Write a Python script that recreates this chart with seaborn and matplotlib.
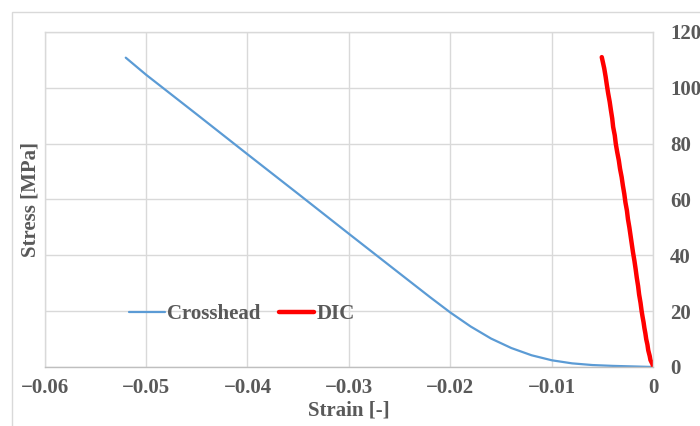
import numpy as np
import pandas as pd
import matplotlib
matplotlib.use("Agg")
import matplotlib.pyplot as plt
from matplotlib.patches import Rectangle
import seaborn as sns


# Crosshead series (strain [-], stress [MPa])
crosshead_strain = [0.0, -0.002, -0.004, -0.006, -0.008, -0.010, -0.012, -0.014,
                    -0.016, -0.018, -0.020, -0.022, -0.025, -0.030, -0.035,
                    -0.040, -0.045, -0.050, -0.052]
crosshead_stress = [0.0, 0.2, 0.4, 0.7, 1.3, 2.4, 4.2, 6.8,
                    10.2, 14.5, 19.5, 25.0, 33.5, 47.7, 62.0,
                    76.2, 90.5, 104.7, 110.8]

# DIC series
dic_stress = [0, 1, 2.5, 4, 6, 8, 10, 12, 14, 16, 18, 20, 23, 26, 29, 32, 35, 38,
              41, 44, 47, 50, 53, 56, 59, 62, 65, 68, 71, 74, 77, 80, 83, 86, 89,
              92, 95, 98, 101, 104, 107, 109, 111]
dic_strain = [0.0, -0.00008, -0.00028, -0.00036, -0.00050, -0.00058, -0.00070,
              -0.00078, -0.00088, -0.00096, -0.00106, -0.00115, -0.00126,
              -0.00140, -0.00150, -0.00163, -0.00174, -0.00186, -0.00200,
              -0.00212, -0.00224, -0.00236, -0.00250, -0.00260, -0.00275,
              -0.00286, -0.00300, -0.00312, -0.00328, -0.00340, -0.00356,
              -0.00370, -0.00380, -0.00396, -0.00405, -0.00418, -0.00430,
              -0.00445, -0.00458, -0.00470, -0.00484, -0.00496, -0.00508]

x_ticks = [-0.06, -0.05, -0.04, -0.03, -0.02, -0.01, 0]
y_ticks = [0, 20, 40, 60, 80, 100, 120]

df = pd.concat([
    pd.DataFrame({"strain": crosshead_strain, "stress": crosshead_stress, "series": "Crosshead"}),
    pd.DataFrame({"strain": dic_strain, "stress": dic_stress, "series": "DIC"}),
])

sns.set_theme(style="white")
plt.rcParams["font.family"] = ["Liberation Serif", "DejaVu Serif"]
plt.rcParams["font.weight"] = "bold"

TEXT = "#595959"
GRID = "#d9d9d9"

fig = plt.figure(figsize=(7, 4.26), dpi=100)
ax = fig.add_axes([0.0637, 0.1385, 0.8696, 0.7864])

# outer chart frame
fig.patches.append(Rectangle((12 / 700, -0.2), 1.2, 1.2 - 12 / 426,
                             transform=fig.transFigure, fill=False,
                             edgecolor=GRID, linewidth=1.0))

sns.lineplot(data=df, x="strain", y="stress", hue="series",
             palette={"Crosshead": "#5B9BD5", "DIC": "#FF0000"},
             sort=False, estimator=None, ax=ax, legend=False)
lines = ax.get_lines()
lines[0].set_linewidth(1.6)
lines[1].set_linewidth(3.2)

ax.set_xlim(-0.06, 0)
ax.set_ylim(0, 120)
ax.set_xticks(x_ticks)
ax.set_yticks(y_ticks)
ax.set_xticklabels(["\u22120.06", "\u22120.05", "\u22120.04", "\u22120.03",
                    "\u22120.02", "\u22120.01", "0"])
ax.yaxis.tick_right()
ax.yaxis.set_label_position("left")
ax.tick_params(axis="y", length=0, pad=12, labelsize=15, labelcolor=TEXT)
ax.tick_params(axis="x", length=0, pad=8, labelsize=15, labelcolor=TEXT)
for lab in ax.get_xticklabels():
    lab.set_fontweight("bold")
for lab in ax.get_yticklabels():
    lab.set_fontweight("bold")
    lab.set_horizontalalignment("left")

ax.grid(True, color=GRID, linewidth=1.0)
ax.set_axisbelow(True)
for side in ["top", "left", "right"]:
    ax.spines[side].set_color(GRID)
    ax.spines[side].set_linewidth(1.0)
ax.spines["bottom"].set_color("#bfbfbf")
ax.spines["bottom"].set_linewidth(1.0)

ax.set_xlabel("Strain [-]", fontsize=15, fontweight="bold", color=TEXT, labelpad=2)
ax.set_ylabel("Stress [MPa]", fontsize=15, fontweight="bold", color=TEXT, labelpad=3)

ax.legend(handles=lines, labels=["Crosshead", "DIC"], ncol=2, frameon=False,
          loc="center", bbox_to_anchor=(0.324, 0.158),
          handlelength=1.7, handletextpad=0.1, columnspacing=0.9,
          labelcolor=TEXT, prop={"weight": "bold", "size": 15})

fig.savefig("out.png", dpi=100)
